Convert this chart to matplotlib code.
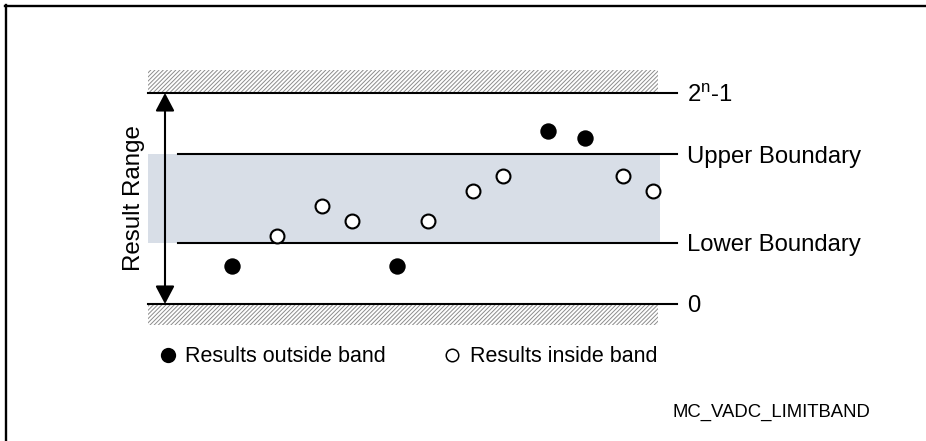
import matplotlib
matplotlib.use("Agg")
import matplotlib.pyplot as plt
from matplotlib.patches import Rectangle
from matplotlib.lines import Line2D

plt.rcParams['font.family'] = ['Liberation Sans', 'DejaVu Sans']
plt.rcParams['mathtext.fontset'] = 'custom'
plt.rcParams['mathtext.rm'] = 'Liberation Sans'
plt.rcParams['mathtext.it'] = 'Liberation Sans'
plt.rcParams['hatch.color'] = '#8c8c8c'
plt.rcParams['hatch.linewidth'] = 0.7

# ---- data ----
FULL_SCALE = 100.0      # 2^n-1
UPPER_BOUND = 71.0
LOWER_BOUND = 29.0
ZERO = 0.0
sample_times = [232, 277, 322, 352, 397, 428, 473, 503, 548, 585, 623, 653]
sample_values = [18.0, 32.2, 46.4, 39.3, 18.0, 39.3, 53.6, 60.7, 82.0, 78.7, 60.7, 53.6]
level_labels = ["2$^{\\mathrm{n}}$-1", "Upper Boundary", "Lower Boundary", "0"]
legend_labels = ["Results outside band", "Results inside band"]
axis_label = "Result Range"
figure_id = "MC_VADC_LIMITBAND"

W, H = 926, 441
fig = plt.figure(figsize=(W / 100, H / 100), dpi=100)
ax = fig.add_axes([0, 0, 1, 1])
px_per_unit = 2.11
zero_px_from_bottom = H - 304
ax.set_xlim(0, W)
ax.set_ylim(-zero_px_from_bottom / px_per_unit, (H - zero_px_from_bottom) / px_per_unit)
ax.axis('off')

# frame (top and left)
lw_frame = 1.7
fig.add_artist(Line2D([5 / W, 1], [1 - 6 / H, 1 - 6 / H], transform=fig.transFigure,
                      color='black', lw=lw_frame))
fig.add_artist(Line2D([6 / W, 6 / W], [0, 1 - 5 / H], transform=fig.transFigure,
                      color='black', lw=lw_frame))

# band
ax.add_patch(Rectangle((148, LOWER_BOUND), 660 - 148, UPPER_BOUND - LOWER_BOUND,
                       facecolor='#d8dee7', edgecolor='none', zorder=1))

# hatched areas beyond range
ax.add_patch(Rectangle((148, FULL_SCALE), 658 - 148, 10.9, facecolor='white',
                       edgecolor='#8c8c8c', hatch='////////', lw=0, zorder=1))
ax.add_patch(Rectangle((148, ZERO - 10.0), 658 - 148, 10.0, facecolor='white',
                       edgecolor='#8c8c8c', hatch='////////', lw=0, zorder=1))

# level lines
lw = 1.5
ax.plot([148, 677], [FULL_SCALE, FULL_SCALE], color='black', lw=lw, zorder=2)
ax.plot([148, 677], [ZERO, ZERO], color='black', lw=lw, zorder=2)
ax.plot([178, 677], [UPPER_BOUND, UPPER_BOUND], color='black', lw=lw, zorder=2)
ax.plot([178, 677], [LOWER_BOUND, LOWER_BOUND], color='black', lw=lw, zorder=2)

# labels
label_fs = 17.2
for lab, lev in zip(level_labels, [FULL_SCALE, UPPER_BOUND, LOWER_BOUND, ZERO]):
    ax.text(687, lev, lab, fontsize=label_fs, ha='left', va='center_baseline')

# arrow
ax.annotate('', xy=(165, ZERO), xytext=(165, FULL_SCALE),
            arrowprops=dict(arrowstyle='<|-|>,head_length=0.55,head_width=0.29',
                            mutation_scale=20, lw=1.5, color='black',
                            shrinkA=0, shrinkB=0), zorder=3)
ax.text(134, (ZERO + FULL_SCALE) / 2, axis_label, rotation=90, fontsize=17.4,
        ha='center', va='center')

# samples
inside_t = [t for t, v in zip(sample_times, sample_values) if LOWER_BOUND <= v <= UPPER_BOUND]
inside_v = [v for v in sample_values if LOWER_BOUND <= v <= UPPER_BOUND]
out_t = [t for t, v in zip(sample_times, sample_values) if not (LOWER_BOUND <= v <= UPPER_BOUND)]
out_v = [v for v in sample_values if not (LOWER_BOUND <= v <= UPPER_BOUND)]
ax.plot(out_t, out_v, 'o', ms=11.8, mfc='black', mec='black', mew=0, zorder=4)
ax.plot(inside_t, inside_v, 'o', ms=10, mfc='white', mec='black', mew=1.5, zorder=4)

# legend
h1 = Line2D([], [], marker='o', ls='none', ms=11, mfc='black', mec='black', mew=0)
h2 = Line2D([], [], marker='o', ls='none', ms=9, mfc='white', mec='black', mew=1.1)
fig.legend([h1, h2], legend_labels, loc='center left', ncol=2, frameon=False,
           bbox_to_anchor=(157 / W, 1 - 357 / H), bbox_transform=fig.transFigure,
           borderaxespad=0, borderpad=0, handlelength=1.0, handletextpad=0.3,
           columnspacing=2.6, fontsize=15.5)

ax.text(672, -50.5, figure_id, fontsize=13.3, ha='left', va='center_baseline')

fig.savefig('out.png', dpi=100)
